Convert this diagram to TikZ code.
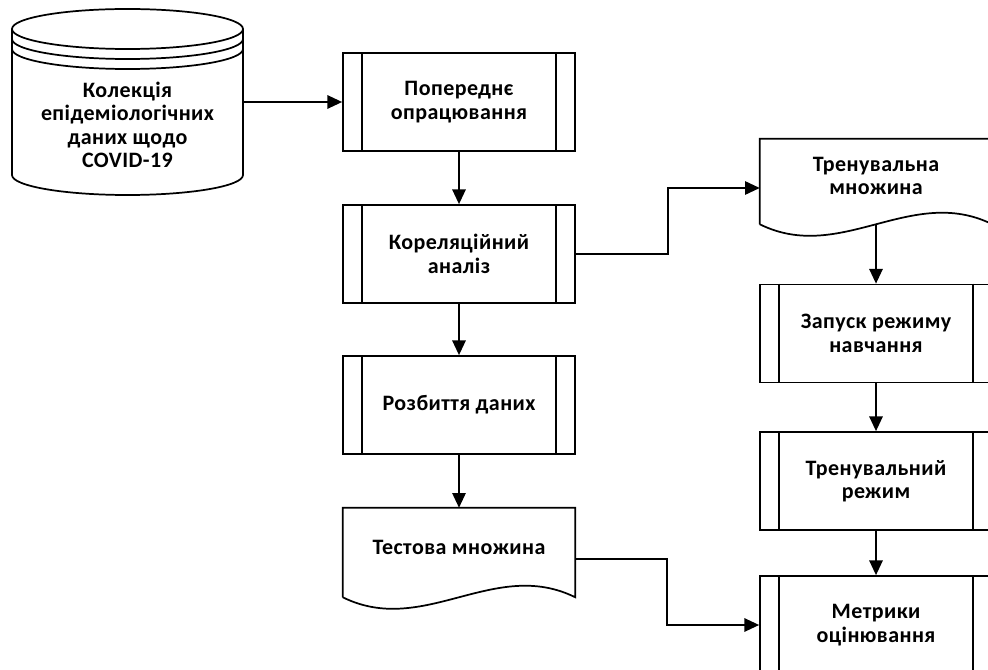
\documentclass[tikz,border=0pt]{standalone}
\usepackage{fontspec}
\setmainfont{Carlito}[LetterSpace=2]
\usepackage{tikz}
\usetikzlibrary{positioning,calc,arrows.meta}
\definecolor{FlowInk}{HTML}{000000}

\begin{document}
\begin{tikzpicture}[x=0.75pt,y=-0.75pt,
    ink/.style={draw=FlowInk,line width=1.3pt},
    flow/.style={ink,-{Triangle[length=11pt,width=10pt]}},
    flowtext/.style={align=center,text=FlowInk,font=\bfseries\fontsize{16.5}{17.5}\selectfont},
    proc/.style={flowtext,ink,fill=white,inner sep=0pt,minimum width=174pt,minimum height=73.5pt},
    docbox/.style={flowtext,inner sep=0pt,minimum width=174pt}]
    \useasboundingbox (0,0) rectangle (988,670);
    \clip (0,0) rectangle (988,670);
    % data store
    \draw[ink,fill=white] (12,29) -- (12,175) arc[start angle=180,end angle=360,x radius=86.625pt,y radius=15pt] -- (243,29);
    \draw[ink] (127.5,29) ellipse [x radius=86.625pt,y radius=15pt];
    \foreach \d in {10,20} {
      \draw[ink] (12,{29+\d}) arc[start angle=180,end angle=360,x radius=86.625pt,y radius=15pt];
    }
    \node[flowtext,minimum width=173.25pt] (db) at (127.5,125) {Колекція\\епідеміологічних\\даних щодо\\COVID-19};
    % left column
    \node[proc] (p1) at (459,102) {Попереднє\\опрацювання};
    \node[proc] (p2) at (459,254) {Кореляційний\\аналіз};
    \node[proc] (p3) at (459,405) {Розбиття даних};
    \node[docbox,minimum height=58.5pt] (test) at (459,547) {Тестова множина};
    % right column
    \node[docbox,minimum height=55.5pt] (train) at (876,176) {Тренувальна\\множина};
    \node[proc] (r1) at (876,333.5) {Запуск режиму\\навчання};
    \node[proc] (r2) at (876,481) {Тренувальний\\режим};
    \node[proc] (r3) at (876,625) {Метрики\\оцінювання};
    \foreach \n in {p1,p2,p3,r1,r2,r3} {
      \draw[ink] ($(\n.north west)+(20,0)$) -- ($(\n.south west)+(20,0)$)
                 ($(\n.north east)+(-20,0)$) -- ($(\n.south east)+(-20,0)$);
    }
    \foreach \n in {test,train} {
      \draw[ink] ($(\n.south west)+(0,11)$) -- (\n.north west) -- (\n.north east) -- ($(\n.south east)+(0,11)$)
        .. controls ($(\n.south east)+(-81,-29)$) and ($(\n.south west)+(81,51)$) .. ($(\n.south west)+(0,11)$);
    }
    % connectors
    \draw[flow] (db.east |- p1.west) -- (p1.west);
    \draw[flow] (p1.south) -- (p2.north);
    \draw[flow] (p2.south) -- (p3.north);
    \draw[flow] (p3.south) -- (test.north);
    \draw[flow] (p2.east) -- ++(92,0) |- ($(train.west)+(0,12)$);
    \draw[flow] ($(test.east)+(0,12)$) -- ++(92,0) |- (r3.west);
    \draw[flow] ($(train.south)+(0,12)$) -- (r1.north);
    \draw[flow] (r1.south) -- (r2.north);
    \draw[flow] (r2.south) -- (r3.north);
\end{tikzpicture}
\end{document}
